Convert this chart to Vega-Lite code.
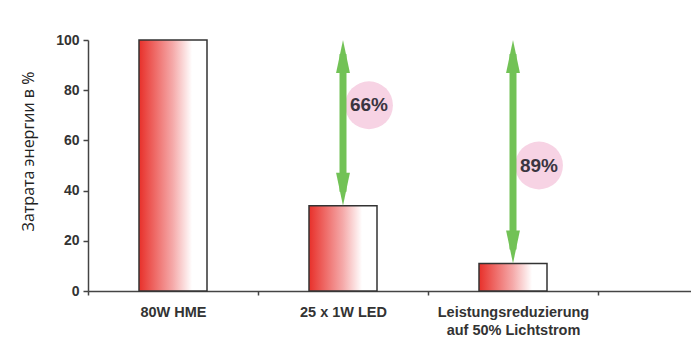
{
  "$schema": "https://vega.github.io/schema/vega-lite/v6.json",
  "autosize": {"type": "none"},
  "width": 603,
  "height": 251,
  "padding": {"left": 88, "top": 40, "right": 0, "bottom": 63},
  "background": "#ffffff",
  "config": {"view": {"stroke": null}, "font": "Liberation Sans"},
  "datasets": {
    "bars": [
      {"cat": "80W HME", "value": 100},
      {"cat": "25 x 1W LED", "value": 34},
      {"cat": "Leistungsreduzierung auf 50% Lichtstrom", "value": 11}
    ],
    "arrows": [
      {"cat": "25 x 1W LED", "top": 100, "bottom": 34, "label": "66%", "ly": 74},
      {"cat": "Leistungsreduzierung auf 50% Lichtstrom", "top": 100, "bottom": 11, "label": "89%", "ly": 50}
    ]
  },
  "encoding": {
    "x": {
      "field": "cat",
      "type": "nominal",
      "sort": null,
      "scale": {
        "domain": ["80W HME", "25 x 1W LED", "Leistungsreduzierung auf 50% Lichtstrom", "_empty"],
        "range": [0, 680],
        "paddingInner": 0,
        "paddingOuter": 0
      },
      "axis": {
        "title": null,
        "labelAngle": 0,
        "tickBand": "extent",
        "tickSize": 4,
        "tickWidth": 1.5,
        "tickColor": "#444444",
        "domainColor": "#444444",
        "domainWidth": 1.5,
        "labelFont": "Liberation Sans",
        "labelFontWeight": "bold",
        "labelFontSize": 14.5,
        "labelColor": "#333333",
        "labelPadding": 10,
        "labelLineHeight": 18,
        "labelExpr": "datum.value == '_empty' ? '' : (datum.value == 'Leistungsreduzierung auf 50% Lichtstrom' ? ['Leistungsreduzierung', 'auf 50% Lichtstrom'] : datum.value)"
      }
    }
  },
  "layer": [
    {
      "data": {"name": "bars"},
      "mark": {
        "type": "bar",
        "width": {"band": 0.4},
        "stroke": "#333333",
        "strokeWidth": 1.5,
        "fill": {
          "gradient": "linear",
          "x1": 0, "x2": 1, "y1": 0, "y2": 0,
          "stops": [
            {"offset": 0, "color": "#e8302a"},
            {"offset": 0.5, "color": "#f5aaaa"},
            {"offset": 0.78, "color": "#ffffff"},
            {"offset": 1, "color": "#ffffff"}
          ]
        }
      },
      "encoding": {
        "y": {
          "field": "value",
          "type": "quantitative",
          "scale": {"domain": [0, 100], "nice": false},
          "axis": {
            "title": "Затрата энергии в %",
            "titleFont": "Open Sans",
            "titleFontSize": 16,
            "titleFontWeight": "normal",
            "titleColor": "#222222",
            "titleX": -60,
            "titleY": 111,
            "titleAngle": -90,
            "titleAlign": "center",
            "titleBaseline": "middle",
            "values": [0, 20, 40, 60, 80, 100],
            "grid": false,
            "tickSize": 5,
            "tickWidth": 1.5,
            "tickColor": "#444444",
            "domainColor": "#444444",
            "domainWidth": 1.5,
            "labelFont": "Liberation Sans",
            "labelFontWeight": "bold",
            "labelFontSize": 14,
            "labelColor": "#333333",
            "labelPadding": 4
          }
        }
      }
    },
    {
      "data": {"name": "arrows"},
      "mark": {"type": "point", "filled": true, "opacity": 1, "color": "#f7d3e4", "shape": "circle", "size": 2290, "strokeWidth": 0, "xOffset": 26},
      "encoding": {
        "y": {"field": "ly", "type": "quantitative"}
      }
    },
    {
      "data": {"name": "arrows"},
      "mark": {"type": "rule", "color": "#72c256", "strokeWidth": 7, "yOffset": 14, "y2Offset": -14},
      "encoding": {
        "y": {"field": "top", "type": "quantitative"},
        "y2": {"field": "bottom"}
      }
    },
    {
      "data": {"name": "arrows"},
      "mark": {"type": "point", "filled": true, "opacity": 1, "color": "#72c256", "shape": "M0,0L0.42,2L-0.42,2Z", "size": 1089, "strokeWidth": 0},
      "encoding": {
        "y": {"field": "top", "type": "quantitative"}
      }
    },
    {
      "data": {"name": "arrows"},
      "mark": {"type": "point", "filled": true, "opacity": 1, "color": "#72c256", "shape": "M0,0L0.42,-2L-0.42,-2Z", "size": 1089, "strokeWidth": 0},
      "encoding": {
        "y": {"field": "bottom", "type": "quantitative"}
      }
    },
    {
      "data": {"name": "arrows"},
      "mark": {"type": "text", "font": "Liberation Sans", "fontWeight": "bold", "fontSize": 19, "color": "#3a3540", "xOffset": 26, "align": "center", "baseline": "middle"},
      "encoding": {
        "y": {"field": "ly", "type": "quantitative"},
        "text": {"field": "label"}
      }
    }
  ]
}
